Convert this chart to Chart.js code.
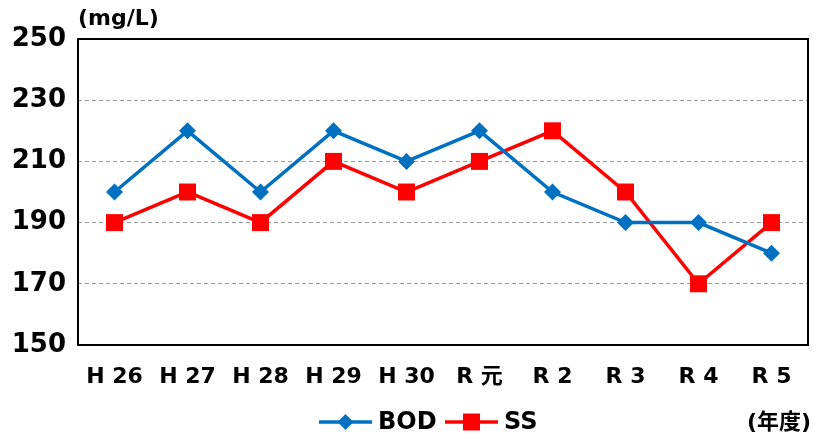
<!DOCTYPE html>
<html>
<head>
<meta charset="utf-8">
<script src="https://cdn.jsdelivr.net/npm/chart.js@4"></script>
<style>
  html, body { margin: 0; padding: 0; background: #fff; }
  #wrap { width: 820px; height: 441px; }
</style>
</head>
<body>
<div id="wrap"><canvas id="waterChart" width="820" height="441"></canvas></div>
<script>
const years = ['H 26', 'H 27', 'H 28', 'H 29', 'H 30', 'R 元', 'R 2', 'R 3', 'R 4', 'R 5'];
const bod = [200, 220, 200, 220, 210, 220, 200, 190, 190, 180];
const ss = [190, 200, 190, 210, 200, 210, 220, 200, 170, 190];
const yTicks = [150, 170, 190, 210, 230, 250];

const FONT = '"DejaVu Sans", "Noto Sans CJK JP", sans-serif';
const BLUE = '#0070C0';
const RED = '#FF0000';

// border, unit labels and the legend at the bottom
const extras = {
  id: 'extras',
  afterDraw(chart) {
    const { ctx, chartArea: a } = chart;
    ctx.save();
    ctx.strokeStyle = '#000';
    ctx.lineWidth = 2;
    ctx.strokeRect(a.left, a.top, a.right - a.left, a.bottom - a.top);

    ctx.fillStyle = '#000';
    ctx.font = 'bold 22px ' + FONT;
    ctx.textBaseline = 'middle';
    ctx.textAlign = 'left';
    ctx.fillText('(mg/L)', 78, 19);
    ctx.textAlign = 'right';
    ctx.fillText('(年度)', 811, 423);

    const y = 422;
    const items = [
      { label: 'BOD', color: BLUE, style: 'rectRot', r: 8, x: 319 },
      { label: 'SS', color: RED, style: 'rect', r: 12, x: 445 }
    ];
    items.forEach(it => {
      ctx.strokeStyle = it.color;
      ctx.lineWidth = 3.5;
      ctx.beginPath();
      ctx.moveTo(it.x, y);
      ctx.lineTo(it.x + 53, y);
      ctx.stroke();
      ctx.fillStyle = it.color;
      Chart.helpers.drawPoint(ctx, { pointStyle: it.style, radius: it.r, borderWidth: 0 }, it.x + 26.5, y);
      ctx.fillStyle = '#000';
      ctx.textAlign = 'left';
      ctx.font = 'bold 24px ' + FONT;
      ctx.fillText(it.label, it.x + 59, y + 1);
    });
    ctx.restore();
  }
};

new Chart(document.getElementById('waterChart'), {
  type: 'line',
  data: {
    labels: years,
    datasets: [
      {
        label: 'BOD',
        data: bod,
        borderColor: BLUE,
        backgroundColor: BLUE,
        borderWidth: 3.5,
        pointStyle: 'rectRot',
        pointRadius: 8.5,
        pointBorderWidth: 0,
        tension: 0
      },
      {
        label: 'SS',
        data: ss,
        borderColor: RED,
        backgroundColor: RED,
        borderWidth: 3.5,
        pointStyle: 'rect',
        pointRadius: 12,
        pointBorderWidth: 0,
        tension: 0
      }
    ]
  },
  options: {
    responsive: false,
    animation: false,
    layout: { padding: { top: 39, right: 11, left: 0, bottom: 0 } },
    plugins: {
      legend: { display: false },
      tooltip: { enabled: false }
    },
    scales: {
      x: {
        offset: true,
        grid: { display: false, drawTicks: false },
        border: { display: false },
        ticks: {
          color: '#000',
          padding: 19,
          maxRotation: 0,
          font: { family: FONT, size: 22, weight: 'bold' }
        },
        afterFit(axis) { axis.height = 96; }
      },
      y: {
        min: 150,
        max: 250,
        afterBuildTicks(axis) { axis.ticks = yTicks.map(v => ({ value: v })); },
        grid: {
          drawTicks: false,
          color: ctx => (ctx.tick && (ctx.tick.value === 150 || ctx.tick.value === 250)) ? 'rgba(0,0,0,0)' : '#999',
          lineWidth: 1
        },
        border: { display: false, dash: [4, 3] },
        ticks: {
          color: '#000',
          padding: 12,
          font: { family: FONT, size: 26, weight: 'bold' }
        },
        afterFit(axis) { axis.width = 78; }
      }
    }
  },
  plugins: [extras]
});
</script>
</body>
</html>
